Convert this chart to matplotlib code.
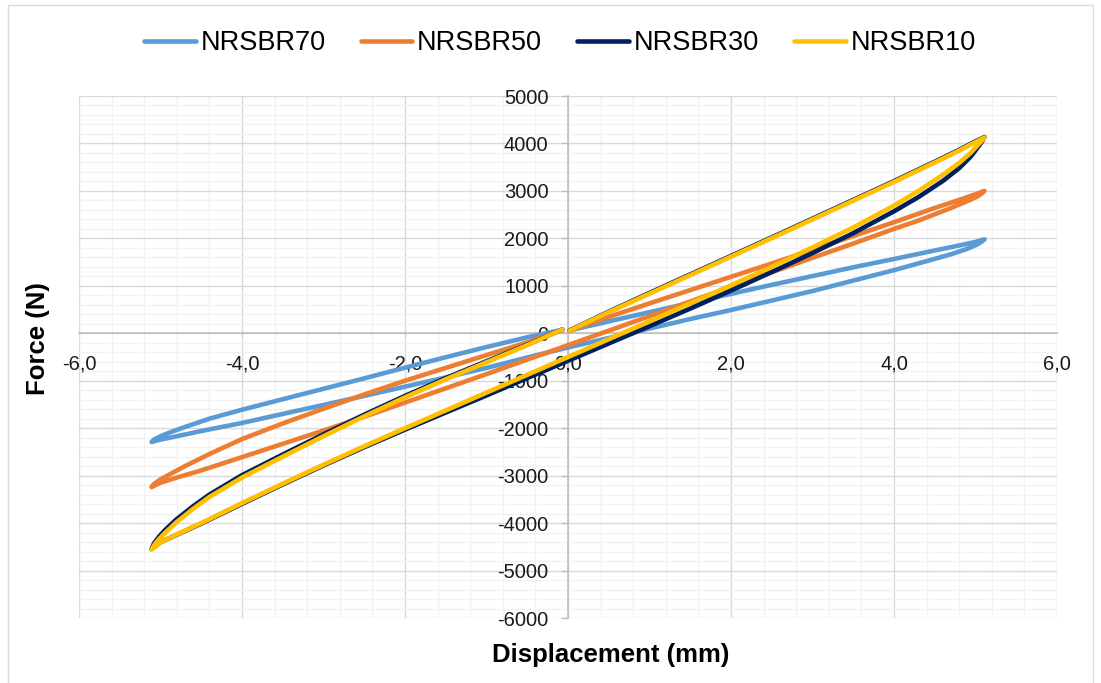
import matplotlib
matplotlib.use("Agg")
import matplotlib.pyplot as plt
from matplotlib.patches import Rectangle
from matplotlib.ticker import MultipleLocator, FuncFormatter

plt.rcParams["font.family"] = ["Liberation Sans", "DejaVu Sans"]

# hysteresis loops: displacement (mm) and force (N)
# each loop: start near origin -> peak -> lower branch -> min -> back to origin
nrsbr70_disp = [0.02, 0.5, 1.0, 1.5, 2.0, 2.5, 3.0, 3.5, 4.0, 4.5, 4.8, 5.0, 5.11,
                5.08, 5.02, 4.9, 4.7, 4.4, 4.0, 3.5, 3.0, 2.5, 2.0, 1.5, 1.0, 0.5, 0.0,
                -0.5, -1.0, -1.5, -2.0, -2.5, -3.0, -3.5, -4.0, -4.5, -4.8, -5.0, -5.11,
                -5.08, -5.0, -4.9, -4.7, -4.4, -4.0, -3.5, -3.0, -2.5, -2.0, -1.5, -1.0, -0.5, -0.07]
nrsbr70_force = [60, 250, 445, 640, 830, 1020, 1205, 1390, 1565, 1745, 1850, 1925, 1979,
                 1935, 1870, 1780, 1665, 1520, 1330, 1110, 890, 690, 490, 300, 100, -100, -300,
                 -510, -730, -930, -1125, -1320, -1510, -1700, -1890, -2060, -2170, -2240, -2290,
                 -2240, -2170, -2100, -1975, -1800, -1611, -1390, -1170, -950, -725, -505, -290, -85, 75]

nrsbr50_disp = [0.02, 0.5, 1.0, 1.5, 2.0, 2.5, 3.0, 3.5, 4.0, 4.5, 4.8, 5.0, 5.11,
                5.08, 5.02, 4.92, 4.7, 4.3, 4.0, 3.5, 3.0, 2.5, 2.0, 1.5, 1.0, 0.5, 0.0,
                -0.5, -1.0, -1.5, -2.0, -2.5, -3.0, -3.5, -4.0, -4.5, -4.8, -5.0, -5.11,
                -5.08, -5.0, -4.9, -4.7, -4.4, -4.0, -3.5, -3.0, -2.5, -2.0, -1.5, -1.0, -0.5, -0.07]
nrsbr50_force = [60, 345, 630, 910, 1190, 1470, 1760, 2050, 2340, 2640, 2810, 2930, 3000,
                 2950, 2880, 2800, 2640, 2375, 2200, 1890, 1590, 1285, 980, 670, 360, 55, -250,
                 -555, -860, -1160, -1460, -1760, -2050, -2330, -2610, -2890, -3040, -3150, -3240,
                 -3175, -3080, -2985, -2800, -2545, -2230, -1900, -1590, -1290, -1000, -730, -460, -190, 70]

nrsbr30_disp = [0.02, 0.5, 1.0, 1.5, 2.0, 2.5, 3.0, 3.5, 4.0, 4.5, 4.8, 5.0, 5.11,
                5.08, 5.02, 4.94, 4.8, 4.6, 4.3, 4.0, 3.5, 3.0, 2.5, 2.0, 1.5, 1.0, 0.5, 0.0,
                -0.5, -1.0, -1.5, -2.0, -2.5, -3.0, -3.5, -4.0, -4.5, -4.8, -5.0, -5.11,
                -5.08, -5.02, -4.94, -4.81, -4.6, -4.4, -4.0, -3.5, -3.0, -2.5, -2.0, -1.5, -1.0, -0.5, -0.07]
nrsbr30_force = [60, 455, 850, 1240, 1630, 2020, 2415, 2810, 3205, 3615, 3865, 4045, 4135,
                 4040, 3900, 3720, 3480, 3210, 2870, 2570, 2110, 1690, 1290, 900, 520, 150, -215, -580,
                 -945, -1310, -1670, -2030, -2400, -2785, -3185, -3595, -4010, -4245, -4405, -4545,
                 -4430, -4290, -4140, -3930, -3645, -3400, -2990, -2555, -2130, -1715, -1320, -945, -590, -240, 80]

nrsbr10_disp = [0.02, 0.5, 1.0, 1.5, 2.0, 2.5, 3.0, 3.5, 4.0, 4.5, 4.8, 5.0, 5.11,
                5.08, 5.02, 4.94, 4.8, 4.6, 4.3, 4.0, 3.5, 3.0, 2.5, 2.0, 1.5, 1.0, 0.5, 0.0,
                -0.5, -1.0, -1.5, -2.0, -2.5, -3.0, -3.5, -4.0, -4.5, -4.8, -5.0, -5.11,
                -5.08, -5.02, -4.94, -4.81, -4.6, -4.4, -4.0, -3.5, -3.0, -2.5, -2.0, -1.5, -1.0, -0.5, -0.07]
nrsbr10_force = [55, 445, 835, 1225, 1615, 2005, 2400, 2795, 3190, 3600, 3850, 4030, 4126,
                 4060, 3950, 3800, 3590, 3340, 3000, 2690, 2230, 1810, 1400, 1010, 630, 250, -125, -500,
                 -875, -1250, -1625, -2000, -2380, -2770, -3170, -3580, -4000, -4240, -4410, -4560,
                 -4470, -4340, -4200, -3990, -3700, -3450, -3040, -2600, -2170, -1750, -1350, -970, -610, -250, 80]

series = [
    ("NRSBR70", nrsbr70_disp, nrsbr70_force, "#5B9BD5"),
    ("NRSBR50", nrsbr50_disp, nrsbr50_force, "#ED7D31"),
    ("NRSBR30", nrsbr30_disp, nrsbr30_force, "#002060"),
    ("NRSBR10", nrsbr10_disp, nrsbr10_force, "#FFC000"),
]

fig = plt.figure(figsize=(11.01, 6.83), dpi=100)
rect = [79 / 1101, 1 - 618 / 683, 978 / 1101, 522 / 683]

# background axes only carries the gridlines, so tick labels sit on top of them
bg = fig.add_axes(rect, zorder=0)
ax = fig.add_axes(rect, zorder=1)
ax.patch.set_visible(False)

for a in (bg, ax):
    a.set_xlim(-6, 6)
    a.set_ylim(-6000, 5000)
    a.xaxis.set_major_locator(MultipleLocator(2))
    a.xaxis.set_minor_locator(MultipleLocator(0.4))
    a.yaxis.set_major_locator(MultipleLocator(1000))
    a.yaxis.set_minor_locator(MultipleLocator(200))

bg.grid(which="minor", color="#f2f2f2", lw=1.0)
bg.grid(which="major", color="#d9d9d9", lw=1.0)
bg.tick_params(which="both", length=0, labelbottom=False, labelleft=False)
for s in bg.spines.values():
    s.set_visible(False)

for name, xs, ys, col in series:
    ax.plot(xs, ys, color=col, lw=3.3, label=name,
            solid_capstyle="round", solid_joinstyle="round", zorder=2)

ax.xaxis.set_major_formatter(FuncFormatter(lambda v, p: f"{v:.1f}".replace(".", ",")))
ax.yaxis.set_major_formatter(FuncFormatter(lambda v, p: f"{v:.0f}"))

for s in ["top", "right"]:
    ax.spines[s].set_visible(False)
ax.spines["left"].set_position(("data", 0))
ax.spines["bottom"].set_position(("data", 0))
for s in ["left", "bottom"]:
    ax.spines[s].set_color("#bfbfbf")
    ax.spines[s].set_linewidth(1.2)
    ax.spines[s].set_zorder(1.5)

ax.tick_params(which="minor", length=0)
ax.tick_params(axis="y", which="major", length=5, width=1, color="#bfbfbf",
               labelsize=14.5, pad=9, labelcolor="#1a1a1a")
ax.tick_params(axis="x", which="major", length=0, labelsize=14.5, pad=15,
               labelcolor="#1a1a1a")

fig.text(611 / 1101, 1 - 655 / 683, "Displacement (mm)", fontsize=18.5,
         fontweight="bold", ha="center", va="center")
fig.text(38 / 1101, 1 - 339 / 683, "Force (N)", fontsize=18.5, fontweight="bold",
         rotation=90, ha="center", va="center")

fig.legend(loc="center", bbox_to_anchor=(560 / 1101, 1 - 43 / 683), ncol=4,
           frameon=False, fontsize=19.5, handlelength=1.9, handletextpad=0.18,
           columnspacing=1.3)

fig.patches.append(Rectangle((8 / 1101, -0.02), 1085 / 1101, 1 - 5 / 683 + 0.02,
                             transform=fig.transFigure, fill=False,
                             edgecolor="#d9d9d9", lw=1.0))

fig.savefig("out.png", dpi=100)
